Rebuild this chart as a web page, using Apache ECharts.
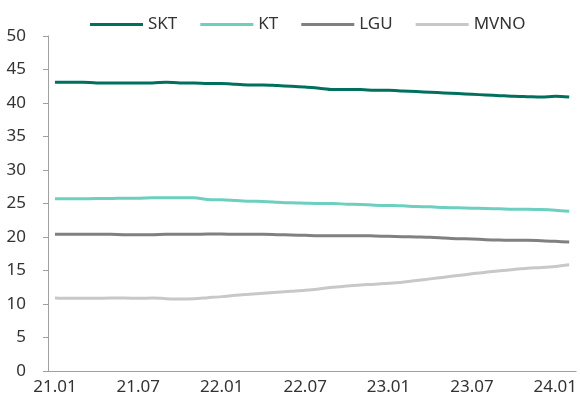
<!DOCTYPE html>
<html>
<head>
<meta charset="utf-8">
<script src="https://cdn.jsdelivr.net/npm/echarts@6/dist/echarts.min.js"></script>
<style>
html,body{margin:0;padding:0;background:#fff;}
#chart{width:580px;height:403px;}
</style>
</head>
<body>
<div id="chart"></div>
<script>
const categories = ['21.01','21.02','21.03','21.04','21.05','21.06','21.07','21.08','21.09','21.10','21.11','21.12',
  '22.01','22.02','22.03','22.04','22.05','22.06','22.07','22.08','22.09','22.10','22.11','22.12',
  '23.01','23.02','23.03','23.04','23.05','23.06','23.07','23.08','23.09','23.10','23.11','23.12',
  '24.01','24.02'];
const seriesNames = ['SKT','KT','LGU','MVNO'];
const skt = [43.1,43.1,43.1,43.0,43.0,43.0,43.0,43.0,43.1,43.0,43.0,42.9,
  42.9,42.8,42.7,42.7,42.6,42.5,42.4,42.2,42.0,42.0,42.0,41.9,
  41.9,41.8,41.7,41.6,41.5,41.4,41.3,41.2,41.1,41.0,40.95,40.9,
  41.0,40.9];
const kt = [25.7,25.7,25.7,25.75,25.75,25.8,25.8,25.85,25.85,25.85,25.85,25.6,
  25.55,25.45,25.35,25.3,25.2,25.1,25.05,25.0,25.0,24.9,24.85,24.75,
  24.7,24.65,24.55,24.5,24.4,24.35,24.3,24.25,24.2,24.15,24.15,24.1,
  24.0,23.85];
const lgu = [20.4,20.4,20.4,20.4,20.4,20.35,20.35,20.35,20.4,20.4,20.4,20.45,
  20.45,20.4,20.4,20.4,20.35,20.3,20.25,20.2,20.2,20.2,20.2,20.15,
  20.1,20.05,20.0,19.95,19.85,19.75,19.7,19.6,19.55,19.5,19.5,19.45,
  19.35,19.25];
const mvno = [10.9,10.85,10.85,10.85,10.9,10.9,10.85,10.9,10.8,10.75,10.8,10.95,
  11.1,11.3,11.45,11.6,11.75,11.9,12.05,12.25,12.5,12.7,12.85,12.95,
  13.1,13.25,13.5,13.75,14.0,14.25,14.5,14.75,14.95,15.15,15.35,15.45,
  15.6,15.85];
const colors = ['#00705e','#6ccfc0','#808080','#c8c8c8'];
const values = [skt, kt, lgu, mvno];

const chart = echarts.init(document.getElementById('chart'));
const font = '"Noto Sans", sans-serif';
chart.setOption({
  animation: false,
  textStyle: {fontFamily: font},
  legend: {
    left: 85, top: 11,
    itemWidth: 53, itemHeight: 3, itemGap: 23,
    icon: 'rect',
    textStyle: {fontSize: 17, color: '#333', fontFamily: font},
    data: seriesNames
  },
  grid: {left: 48, right: 1, top: 36, bottom: 32, containLabel: false},
  xAxis: {
    type: 'category',
    data: categories,
    boundaryGap: true,
    axisLine: {lineStyle: {color: '#a0a0a0', width: 1}},
    axisTick: {interval: 5, length: 5, lineStyle: {color: '#a0a0a0'}},
    axisLabel: {interval: 5, fontSize: 17, color: '#333', margin: 8, fontFamily: font},
    splitLine: {show: false}
  },
  yAxis: {
    type: 'value',
    min: 0, max: 50, interval: 5,
    axisLine: {show: true, lineStyle: {color: '#a0a0a0', width: 1}},
    axisTick: {show: true, length: 5, lineStyle: {color: '#a0a0a0'}},
    axisLabel: {fontSize: 17, color: '#333', margin: 22, fontFamily: font},
    splitLine: {show: false}
  },
  series: seriesNames.map((n, i) => ({
    name: n,
    type: 'line',
    data: values[i],
    symbol: 'none',
    smooth: 0.3,
    lineStyle: {color: colors[i], width: 3},
    itemStyle: {color: colors[i]}
  }))
});
</script>
</body>
</html>
